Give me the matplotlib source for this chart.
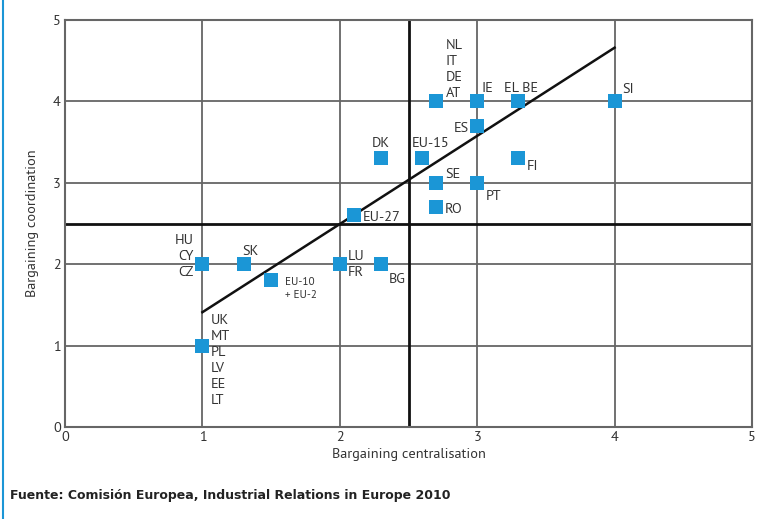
import matplotlib
matplotlib.use("Agg")
import matplotlib.pyplot as plt

plt.rcParams['font.family'] = ['PT Sans', 'DejaVu Sans']

labels = ["NL\nIT\nDE\nAT", "IE", "EL BE", "SI", "ES", "DK", "EU-15", "FI", "SE", "PT",
          "RO", "EU-27", "HU\nCY\nCZ", "SK", "LU\nFR", "BG", "EU-10\n+ EU-2",
          "UK\nMT\nPL\nLV\nEE\nLT"]
centralisation = [2.7, 3.0, 3.3, 4.0, 3.0, 2.3, 2.6, 3.3, 2.7, 3.0,
                  2.7, 2.1, 1.0, 1.3, 2.0, 2.3, 1.5, 1.0]
coordination = [4.0, 4.0, 4.0, 4.0, 3.7, 3.3, 3.3, 3.3, 3.0, 3.0,
                 2.7, 2.6, 2.0, 2.0, 2.0, 2.0, 1.8, 1.0]
trend_x = [1.0, 4.0]
trend_y = [1.41, 4.66]
ticks = [0, 1, 2, 3, 4, 5]

# label offsets in pixels and alignment
offsets = [(10, 1, 'left', 'bottom'), (4, 6, 'left', 'bottom'), (3, 6, 'center', 'bottom'),
           (8, 5, 'left', 'bottom'), (-8, -3, 'right', 'center'), (0, 8, 'center', 'bottom'),
           (-10, 8, 'left', 'bottom'), (8, -8, 'left', 'center'), (9, 8, 'left', 'center'),
           (9, -14, 'left', 'center'), (9, -2, 'left', 'center'), (9, -2, 'left', 'center'),
           (-9, 8, 'right', 'center'), (7, 13, 'center', 'center'), (8, 0, 'left', 'center'),
           (8, -15, 'left', 'center'), (14, -8, 'left', 'center'), (8, -15, 'left', 'center')]

fig = plt.figure(figsize=(7.79, 5.19), dpi=100)
ax = fig.add_axes([65/779, 1-427/519, (752-65)/779, (427-20)/519])
ax.set_xlim(0, 5)
ax.set_ylim(0, 5)

grid_c = '#666666'
for v in [1, 2, 3, 4]:
    ax.axvline(v, color=grid_c, lw=1.3, zorder=1)
    ax.axhline(v, color=grid_c, lw=1.3, zorder=1)
ax.axvline(2.5, color='#111111', lw=2.0, zorder=2)
ax.axhline(2.5, color='#111111', lw=2.0, zorder=2)
for s in ax.spines.values():
    s.set_color(grid_c)
    s.set_linewidth(1.5)

ax.plot(trend_x, trend_y, color='#111111', lw=1.8, zorder=3)
ax.scatter(centralisation, coordination, marker='s', s=110, color='#1b96d6', zorder=4, linewidths=0)

txt_c = '#333333'
for lab, x, y, (dx, dy, ha, va) in zip(labels, centralisation, coordination, offsets):
    fs = 8 if lab.startswith("EU-10") else 10.3
    ax.annotate(lab, (x, y), xytext=(dx, dy), textcoords='offset pixels',
                ha=ha, va=va, fontsize=fs, color=txt_c, linespacing=1.3, zorder=5)

ax.set_xticks(ticks)
ax.set_yticks(ticks)
ax.tick_params(length=0, labelsize=10.3, labelcolor=txt_c, pad=3)
ax.set_xlabel("Bargaining centralisation", fontsize=10.3, color=txt_c, labelpad=3)
ax.set_ylabel("Bargaining coordination", fontsize=10.3, color=txt_c, labelpad=10)

fig.text(10/779, 1-495/519, "Fuente: Comisión Europea, Industrial Relations in Europe 2010",
         fontsize=9, fontweight='bold', color='#222222', va='center', ha='left',
         family=['DejaVu Sans'])
fig.add_artist(plt.Line2D([3/779, 3/779], [0, 1], color='#1b96d6', lw=1.5))

fig.savefig("out.png", dpi=100)
